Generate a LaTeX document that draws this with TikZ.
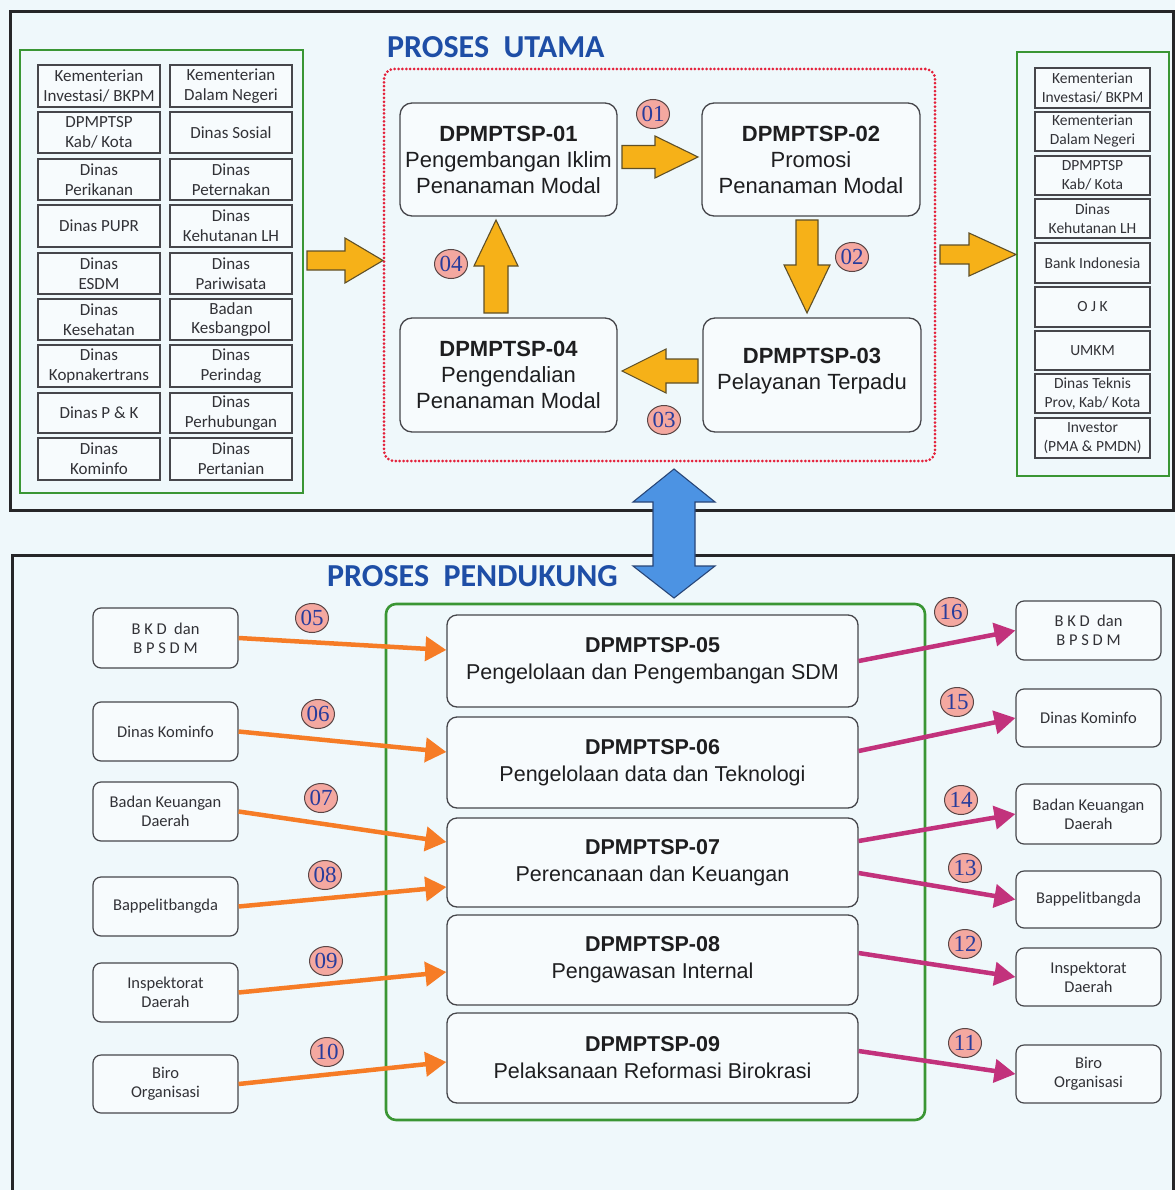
\documentclass[tikz,border=0pt]{standalone}
\usepackage{fontspec}
\setmainfont{Liberation Sans}
\newfontfamily\calfont{Carlito}
\newfontfamily\serfont{Liberation Serif}
\usetikzlibrary{shapes.geometric,arrows.meta,calc}
\definecolor{bgc}{RGB}{239,248,251}
\definecolor{framec}{RGB}{38,38,40}
\definecolor{greenc}{RGB}{58,150,52}
\definecolor{redc}{RGB}{228,32,58}
\definecolor{titlec}{RGB}{30,78,166}
\definecolor{boxc}{RGB}{70,70,75}
\definecolor{txtc}{RGB}{50,50,55}
\definecolor{dptxt}{RGB}{30,30,32}
\definecolor{yfill}{RGB}{246,177,24}
\definecolor{yedge}{RGB}{95,80,40}
\definecolor{numfill}{RGB}{244,168,160}
\definecolor{numedge}{RGB}{90,70,70}
\definecolor{numtxt}{RGB}{40,60,155}
\definecolor{orangec}{RGB}{246,124,38}
\definecolor{magc}{RGB}{194,50,124}
\definecolor{bluec}{RGB}{76,147,227}
\definecolor{blueedge}{RGB}{40,70,120}
\newcommand\bx[7]{\node[#6, minimum width={#4-#2}, minimum height={#5-#3}] (#1) at ({(#2+#4)/2},{(#3+#5)/2}) {#7};}
% block arrow: tip x, tip y, angle, length, shaft half, head half, head length, style
\newcommand\blockarr[8]{\begin{scope}[shift={(#1,#2)},rotate=#3]\draw[#8] (0,0) -- (-#7,#6) -- (-#7,#5) -- (-#4,#5) -- (-#4,-#5) -- (-#7,-#5) -- (-#7,-#6) -- cycle;\end{scope}}
\begin{document}
\begin{tikzpicture}[x=1pt,y=-1pt,
  frame/.style={draw=framec, line width=3pt},
  gbox/.style={draw=greenc, line width=2.6pt, inner sep=0pt},
  sbox/.style={draw=boxc, line width=1.2pt, fill=white!50!bgc, inner sep=1pt, align=center, text=txtc, font=\calfont\fontsize{17}{19.7}\selectfont},
  rsbox/.style={sbox, font=\calfont\fontsize{15.5}{19}\selectfont},
  sidebox/.style={sbox, rounded corners=8pt, font=\calfont\fontsize{16.5}{19}\selectfont},
  dpbox/.style={draw=boxc, line width=1.3pt, fill=white!50!bgc, rounded corners=12pt, align=center, text=dptxt, inner sep=2pt, font=\fontsize{22}{26}\selectfont},
  dpbbox/.style={dpbox, rounded corners=10pt, font=\fontsize{21.5}{27}\selectfont},
  num/.style={ellipse, draw=numedge, line width=1pt, fill=numfill, minimum width=33pt, minimum height=29pt, inner sep=0pt, text=numtxt, font=\serfont\fontsize{23}{23}\selectfont},
  oarr/.style={draw=orangec, line width=4.5pt, -{Triangle[length=21pt,width=24pt]}},
  marr/.style={draw=magc, line width=4.5pt, -{Triangle[length=21pt,width=23pt]}},
  yarr/.style={draw=yedge, fill=yfill, line width=1.1pt, line join=miter},
  title/.style={anchor=west, text=titlec, inner sep=0pt, font=\calfont\bfseries\fontsize{32}{32}\selectfont}
]
\useasboundingbox (0,0) rectangle (1175,1190);
\fill[bgc] (0,0) rectangle (1175,1190);
\begin{scope}
\clip (0,0) rectangle (1175,1190);
% frames
\bx{topframe}{10}{12}{1173}{510}{frame}{}
\bx{botframe}{12}{555}{1173}{1210}{frame}{}
\end{scope}

% titles
\node[title] (t1) at (387,47) {PROSES\ \ UTAMA};
\node[title] (t2) at (327,576) {PROSES\ \ PENDUKUNG};

% left group
\bx{lgroup}{20}{50}{303}{493}{gbox}{}
\bx{a1}{38}{65}{160}{107}{sbox}{Kementerian\\Investasi/ BKPM}
\bx{b1}{170}{65}{292}{107}{sbox}{Kementerian\\Dalam Negeri}
\bx{a2}{38}{112}{160}{153}{sbox}{DPMPTSP\\Kab/ Kota}
\bx{b2}{170}{112}{292}{153}{sbox}{Dinas Sosial}
\bx{a3}{38}{159}{160}{200}{sbox}{Dinas\\Perikanan}
\bx{b3}{170}{159}{292}{200}{sbox}{Dinas\\Peternakan}
\bx{a4}{38}{205}{160}{247}{sbox}{Dinas PUPR}
\bx{b4}{170}{205}{292}{247}{sbox}{Dinas\\Kehutanan LH}
\bx{a5}{38}{253}{160}{294}{sbox}{Dinas\\ESDM}
\bx{b5}{170}{253}{292}{294}{sbox}{Dinas\\Pariwisata}
\bx{a6}{38}{299}{160}{340}{sbox}{Dinas\\Kesehatan}
\bx{b6}{170}{299}{292}{340}{sbox}{Badan\\Kesbangpol}
\bx{a7}{38}{345}{160}{387}{sbox}{Dinas\\Kopnakertrans}
\bx{b7}{170}{345}{292}{387}{sbox}{Dinas\\Perindag}
\bx{a8}{38}{393}{160}{433}{sbox}{Dinas P \& K}
\bx{b8}{170}{393}{292}{433}{sbox}{Dinas\\Perhubungan}
\bx{a9}{38}{438}{160}{480}{sbox}{Dinas\\Kominfo}
\bx{b9}{170}{438}{292}{480}{sbox}{Dinas\\Pertanian}

% right group
\bx{rgroup}{1017}{52}{1169}{476}{gbox}{}
\bx{r1}{1035}{68}{1150}{108}{rsbox}{Kementerian\\Investasi/ BKPM}
\bx{r2}{1035}{112}{1150}{151}{rsbox}{Kementerian\\Dalam Negeri}
\bx{r3}{1035}{156}{1150}{195}{rsbox}{DPMPTSP\\Kab/ Kota}
\bx{r4}{1035}{199}{1150}{238}{rsbox}{Dinas\\Kehutanan LH}
\bx{r5}{1035}{243}{1150}{283}{rsbox}{Bank Indonesia}
\bx{r6}{1035}{287}{1150}{327}{rsbox}{O J K}
\bx{r7}{1035}{331}{1150}{370}{rsbox}{UMKM}
\bx{r8}{1035}{374}{1150}{413}{rsbox}{Dinas Teknis\\Prov, Kab/ Kota}
\bx{r9}{1035}{418}{1150}{458}{rsbox}{Investor\\(PMA \& PMDN)}

% proses utama
\bx{utama}{384}{69}{935}{461}{draw=redc, line width=3pt, dash pattern=on 0pt off 3.9pt, line cap=round, rounded corners=10pt}{}
\bx{dp01}{400}{103}{617}{216}{dpbox}{\textbf{DPMPTSP-01}\\Pengembangan Iklim\\Penanaman Modal}
\bx{dp02}{702}{103}{920}{216}{dpbox}{\textbf{DPMPTSP-02}\\Promosi\\Penanaman Modal}
\bx{dp03}{703}{318}{921}{432}{dpbox}{\textbf{DPMPTSP-03}\\Pelayanan Terpadu\\[-14pt]\mbox{}}
\bx{dp04}{400}{318}{617}{432}{dpbox}{\textbf{DPMPTSP-04}\\Pengendalian\\Penanaman Modal}

% yellow block arrows
\blockarr{383}{260.5}{0}{76}{9.5}{22.5}{38}{yarr}
\blockarr{1016}{254.5}{0}{76}{9.5}{21.5}{47}{yarr}
\blockarr{698}{157}{0}{76}{11.5}{21}{43}{yarr}
\blockarr{807}{313}{-90}{93}{11}{23}{48}{yarr}
\blockarr{622}{371}{180}{76}{12}{22}{44}{yarr}
\blockarr{496}{220}{90}{93}{12}{22}{46}{yarr}
\node[num] (n01) at (653,114) {01};
\node[num] (n02) at (852,257) {02};
\node[num] (n03) at (664,420) {03};
\node[num] (n04) at (451,264) {04};

% proses pendukung
\bx{pend}{386}{604}{925}{1120}{gbox, rounded corners=10pt}{}
\bx{dp05}{447}{615}{858}{707}{dpbbox}{\textbf{DPMPTSP-05}\\Pengelolaan dan Pengembangan SDM}
\bx{dp06}{447}{717}{858}{808}{dpbbox}{\textbf{DPMPTSP-06}\\Pengelolaan data dan Teknologi}
\bx{dp07}{447}{818}{858}{907}{dpbbox}{\textbf{DPMPTSP-07}\\Perencanaan dan Keuangan}
\bx{dp08}{447}{915}{858}{1005}{dpbbox}{\textbf{DPMPTSP-08}\\Pengawasan Internal}
\bx{dp09}{447}{1013}{858}{1103}{dpbbox}{\textbf{DPMPTSP-09}\\Pelaksanaan Reformasi Birokrasi}

\bx{l1}{93}{608}{238}{668}{sidebox}{B K D\ \ dan\\B P S D M}
\bx{l2}{93}{702}{238}{761}{sidebox}{Dinas Kominfo}
\bx{l3}{93}{782}{238}{841}{sidebox}{Badan Keuangan\\Daerah}
\bx{l4}{93}{877}{238}{936}{sidebox}{Bappelitbangda}
\bx{l5}{93}{963}{238}{1022}{sidebox}{Inspektorat\\Daerah}
\bx{l6}{93}{1055}{238}{1113}{sidebox}{Biro\\Organisasi}

\bx{q1}{1016}{601}{1161}{660}{sidebox}{B K D\ \ dan\\B P S D M}
\bx{q2}{1016}{689}{1161}{747}{sidebox}{Dinas Kominfo}
\bx{q3}{1016}{784}{1161}{844}{sidebox}{Badan Keuangan\\Daerah}
\bx{q4}{1016}{871}{1161}{928}{sidebox}{Bappelitbangda}
\bx{q5}{1016}{948}{1161}{1006}{sidebox}{Inspektorat\\Daerah}
\bx{q6}{1016}{1045}{1161}{1103}{sidebox}{Biro\\Organisasi}

\draw[oarr] (l1.east) -- ([yshift=11pt]dp05.west);
\draw[oarr] (l2.east) -- ([yshift=10.5pt]dp06.west);
\draw[oarr] (l3.east) -- ([yshift=20.5pt]dp07.west);
\draw[oarr] (l4.east) -- ([yshift=-24.5pt]dp07.west);
\draw[oarr] (l5.east) -- ([yshift=-12pt]dp08.west);
\draw[oarr] (l6.east) -- ([yshift=-4pt]dp09.west);

\draw[marr] (dp05.east) -- (q1.west);
\draw[marr] ([yshift=11.5pt]dp06.east) -- (q2.west);
\draw[marr] ([yshift=21.5pt]dp07.east) -- (q3.west);
\draw[marr] ([yshift=-10.5pt]dp07.east) -- (q4.west);
\draw[marr] ([yshift=7pt]dp08.east) -- (q5.west);
\draw[marr] ([yshift=7pt]dp09.east) -- (q6.west);

\node[num] (n05) at (312,618) {05};
\node[num] (n06) at (318,714) {06};
\node[num] (n07) at (321,798) {07};
\node[num] (n08) at (325,875) {08};
\node[num] (n09) at (326,961) {09};
\node[num] (n10) at (327,1052) {10};
\node[num] (n16) at (951,612) {16};
\node[num] (n15) at (957,702) {15};
\node[num] (n14) at (961,800) {14};
\node[num] (n13) at (965,868) {13};
\node[num] (n12) at (965,944) {12};
\node[num] (n11) at (965,1043) {11};

% blue double arrow
\draw[draw=blueedge, fill=bluec, line width=1.1pt] (674,469) -- (715,502) -- (695,502) -- (695,566) -- (715,566) -- (674,598) -- (633,566) -- (653,566) -- (653,502) -- (633,502) -- cycle;
\end{tikzpicture}
\end{document}
